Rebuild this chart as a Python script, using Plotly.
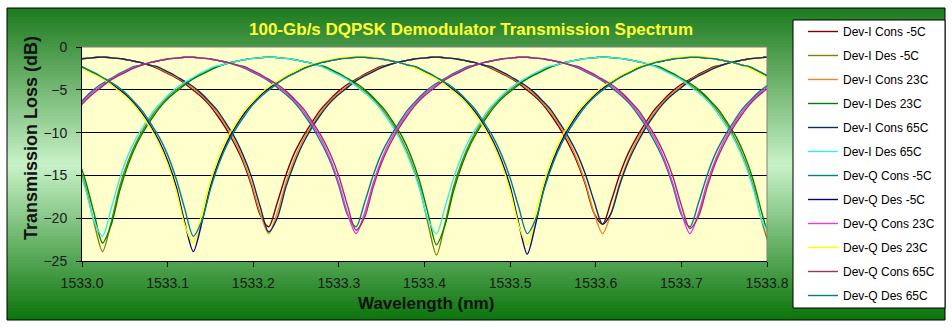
import plotly.graph_objects as go

# ---------------- data ----------------
# wavelength sampling (nm) for each interferometer arm group
wl_i_des = [1532.994, 1533.004, 1533.014, 1533.024, 1533.034, 1533.044, 1533.054, 1533.064, 1533.074, 1533.084,
            1533.094, 1533.104, 1533.114, 1533.124, 1533.134, 1533.144, 1533.154, 1533.164, 1533.174, 1533.184,
            1533.194, 1533.204, 1533.214, 1533.224, 1533.234, 1533.244, 1533.254, 1533.264, 1533.274, 1533.284,
            1533.294, 1533.304, 1533.314, 1533.324, 1533.334, 1533.344, 1533.354, 1533.364, 1533.374, 1533.384,
            1533.394, 1533.404, 1533.414, 1533.424, 1533.434, 1533.444, 1533.454, 1533.464, 1533.474, 1533.484,
            1533.494, 1533.504, 1533.514, 1533.524, 1533.534, 1533.544, 1533.554, 1533.564, 1533.574, 1533.584,
            1533.594, 1533.604, 1533.614, 1533.624, 1533.634, 1533.644, 1533.654, 1533.664, 1533.674, 1533.684,
            1533.694, 1533.704, 1533.714, 1533.724, 1533.734, 1533.744, 1533.754, 1533.764, 1533.774, 1533.784,
            1533.794, 1533.804]
wl_q_des = [1533.000, 1533.010, 1533.020, 1533.030, 1533.040, 1533.050, 1533.060, 1533.070, 1533.080, 1533.090,
            1533.100, 1533.110, 1533.120, 1533.130, 1533.140, 1533.150, 1533.160, 1533.170, 1533.180, 1533.190,
            1533.200, 1533.210, 1533.220, 1533.230, 1533.240, 1533.250, 1533.260, 1533.270, 1533.280, 1533.290,
            1533.300, 1533.310, 1533.320, 1533.330, 1533.340, 1533.350, 1533.360, 1533.370, 1533.380, 1533.390,
            1533.400, 1533.410, 1533.420, 1533.430, 1533.440, 1533.450, 1533.460, 1533.470, 1533.480, 1533.490,
            1533.500, 1533.510, 1533.520, 1533.530, 1533.540, 1533.550, 1533.560, 1533.570, 1533.580, 1533.590,
            1533.600, 1533.610, 1533.620, 1533.630, 1533.640, 1533.650, 1533.660, 1533.670, 1533.680, 1533.690,
            1533.700, 1533.710, 1533.720, 1533.730, 1533.740, 1533.750, 1533.760, 1533.770, 1533.780, 1533.790,
            1533.800]
wl_i_cons = [1532.998, 1533.008, 1533.018, 1533.028, 1533.038, 1533.048, 1533.058, 1533.068, 1533.078, 1533.088,
             1533.098, 1533.108, 1533.118, 1533.128, 1533.138, 1533.148, 1533.158, 1533.168, 1533.178, 1533.188,
             1533.198, 1533.208, 1533.218, 1533.228, 1533.238, 1533.248, 1533.258, 1533.268, 1533.278, 1533.288,
             1533.298, 1533.308, 1533.318, 1533.328, 1533.338, 1533.348, 1533.358, 1533.368, 1533.378, 1533.388,
             1533.398, 1533.408, 1533.418, 1533.428, 1533.438, 1533.448, 1533.458, 1533.468, 1533.478, 1533.488,
             1533.498, 1533.508, 1533.518, 1533.528, 1533.538, 1533.548, 1533.558, 1533.568, 1533.578, 1533.588,
             1533.598, 1533.608, 1533.618, 1533.628, 1533.638, 1533.648, 1533.658, 1533.668, 1533.678, 1533.688,
             1533.698, 1533.708, 1533.718, 1533.728, 1533.738, 1533.748, 1533.758, 1533.768, 1533.778, 1533.788,
             1533.798, 1533.808]
wl_q_cons = [1532.990, 1533.000, 1533.010, 1533.020, 1533.030, 1533.040, 1533.050, 1533.060, 1533.070, 1533.080,
             1533.090, 1533.100, 1533.110, 1533.120, 1533.130, 1533.140, 1533.150, 1533.160, 1533.170, 1533.180,
             1533.190, 1533.200, 1533.210, 1533.220, 1533.230, 1533.240, 1533.250, 1533.260, 1533.270, 1533.280,
             1533.290, 1533.300, 1533.310, 1533.320, 1533.330, 1533.340, 1533.350, 1533.360, 1533.370, 1533.380,
             1533.390, 1533.400, 1533.410, 1533.420, 1533.430, 1533.440, 1533.450, 1533.460, 1533.470, 1533.480,
             1533.490, 1533.500, 1533.510, 1533.520, 1533.530, 1533.540, 1533.550, 1533.560, 1533.570, 1533.580,
             1533.590, 1533.600, 1533.610, 1533.620, 1533.630, 1533.640, 1533.650, 1533.660, 1533.670, 1533.680,
             1533.690, 1533.700, 1533.710, 1533.720, 1533.730, 1533.740, 1533.750, 1533.760, 1533.770, 1533.780,
             1533.790, 1533.800]

# transmission loss (dB)
i_cons_m5 = [-1.4, -1.3, -1.2, -1.2, -1.3, -1.4, -1.6, -1.8, -2.1, -2.5,
             -3.0, -3.5, -4.1, -4.9, -5.7, -6.7, -8.0, -9.5, -11.3, -13.4,
             -16.2, -19.6, -21.0, -18.2, -15.0, -12.4, -10.5, -8.9, -7.4, -6.3,
             -5.3, -4.5, -3.9, -3.3, -2.8, -2.3, -2.1, -1.8, -1.6, -1.4,
             -1.3, -1.2, -1.2, -1.3, -1.4, -1.6, -1.8, -2.1, -2.5, -3.0,
             -3.5, -4.1, -4.9, -5.7, -6.7, -8.0, -9.5, -11.3, -13.4, -16.1,
             -19.4, -20.7, -18.0, -14.9, -12.4, -10.5, -8.9, -7.4, -6.3, -5.3,
             -4.5, -3.9, -3.3, -2.8, -2.3, -2.1, -1.8, -1.6, -1.4, -1.3,
             -1.2, -1.2]
i_des_m5 = [-13.3, -16.3, -20.5, -23.9, -20.5, -16.3, -13.3, -11.0, -9.2, -7.7,
            -6.5, -5.5, -4.7, -4.0, -3.4, -2.9, -2.4, -2.1, -1.8, -1.6,
            -1.4, -1.3, -1.2, -1.2, -1.3, -1.4, -1.6, -1.8, -2.1, -2.4,
            -2.9, -3.4, -4.0, -4.7, -5.5, -6.5, -7.7, -9.2, -11.0, -13.3,
            -16.3, -20.6, -24.3, -20.6, -16.3, -13.3, -11.0, -9.2, -7.7, -6.5,
            -5.5, -4.7, -4.0, -3.4, -2.9, -2.4, -2.1, -1.8, -1.6, -1.4,
            -1.3, -1.2, -1.2, -1.3, -1.4, -1.6, -1.8, -2.1, -2.4, -2.9,
            -3.4, -4.0, -4.7, -5.5, -6.5, -7.7, -9.2, -11.0, -13.3, -16.3,
            -20.4, -23.6]
i_cons_23 = [-1.4, -1.3, -1.2, -1.2, -1.3, -1.4, -1.6, -1.8, -2.1, -2.4,
             -2.9, -3.4, -4.0, -4.7, -5.5, -6.5, -7.7, -9.2, -10.9, -13.1,
             -15.9, -19.4, -21.8, -19.4, -15.9, -13.1, -10.9, -9.2, -7.7, -6.5,
             -5.5, -4.7, -4.0, -3.4, -2.9, -2.4, -2.1, -1.8, -1.6, -1.4,
             -1.3, -1.2, -1.2, -1.3, -1.4, -1.6, -1.8, -2.1, -2.4, -2.9,
             -3.4, -4.0, -4.7, -5.5, -6.5, -7.7, -9.2, -10.9, -13.1, -15.9,
             -19.4, -21.8, -19.4, -15.9, -13.1, -10.9, -9.2, -7.7, -6.5, -5.5,
             -4.7, -4.0, -3.4, -2.9, -2.4, -2.1, -1.8, -1.6, -1.4, -1.3,
             -1.2, -1.2]
i_des_23 = [-12.7, -15.6, -19.4, -22.9, -20.8, -16.8, -13.7, -11.3, -9.5, -8.0,
            -6.7, -5.7, -4.9, -4.1, -3.5, -3.0, -2.5, -2.1, -1.8, -1.6,
            -1.4, -1.3, -1.2, -1.2, -1.3, -1.4, -1.6, -1.8, -2.1, -2.3,
            -2.8, -3.3, -3.9, -4.5, -5.3, -6.3, -7.4, -8.9, -10.5, -12.7,
            -15.6, -19.4, -23.1, -20.8, -16.8, -13.7, -11.3, -9.5, -8.0, -6.7,
            -5.7, -4.9, -4.1, -3.5, -3.0, -2.5, -2.1, -1.8, -1.6, -1.4,
            -1.3, -1.2, -1.2, -1.3, -1.4, -1.6, -1.8, -2.1, -2.3, -2.8,
            -3.3, -3.9, -4.5, -5.3, -6.3, -7.4, -8.9, -10.5, -12.7, -15.6,
            -19.4, -22.8]
i_cons_65 = [-1.4, -1.3, -1.2, -1.2, -1.3, -1.4, -1.6, -1.8, -2.1, -2.3,
             -2.8, -3.3, -3.9, -4.5, -5.3, -6.3, -7.4, -8.9, -10.5, -12.6,
             -15.2, -18.6, -21.6, -20.0, -16.4, -13.6, -11.3, -9.5, -8.0, -6.7,
             -5.7, -4.9, -4.1, -3.5, -3.0, -2.5, -2.1, -1.8, -1.6, -1.4,
             -1.3, -1.2, -1.2, -1.3, -1.4, -1.6, -1.8, -2.1, -2.3, -2.8,
             -3.3, -3.9, -4.5, -5.3, -6.3, -7.4, -8.9, -10.5, -12.4, -14.9,
             -18.0, -20.7, -19.4, -16.1, -13.4, -11.3, -9.5, -8.0, -6.7, -5.7,
             -4.9, -4.1, -3.5, -3.0, -2.5, -2.1, -1.8, -1.6, -1.4, -1.3,
             -1.2, -1.2]
i_des_65 = [-13.6, -16.6, -20.3, -22.1, -18.9, -15.4, -12.6, -10.5, -8.9, -7.4,
            -6.3, -5.3, -4.5, -3.9, -3.3, -2.8, -2.3, -2.1, -1.8, -1.6,
            -1.4, -1.3, -1.2, -1.2, -1.3, -1.4, -1.6, -1.8, -2.1, -2.5,
            -3.0, -3.5, -4.1, -4.9, -5.7, -6.7, -8.0, -9.5, -11.3, -13.6,
            -16.5, -20.1, -21.8, -18.7, -15.3, -12.6, -10.5, -8.9, -7.4, -6.3,
            -5.3, -4.5, -3.9, -3.3, -2.8, -2.3, -2.1, -1.8, -1.6, -1.4,
            -1.3, -1.2, -1.2, -1.3, -1.4, -1.6, -1.8, -2.1, -2.5, -3.0,
            -3.5, -4.1, -4.9, -5.7, -6.7, -8.0, -9.5, -11.3, -13.6, -16.6,
            -20.3, -22.0]
q_cons_m5 = [-7.4, -6.3, -5.3, -4.5, -3.9, -3.3, -2.8, -2.3, -2.1, -1.8,
             -1.6, -1.4, -1.3, -1.2, -1.2, -1.3, -1.4, -1.6, -1.8, -2.1,
             -2.5, -3.0, -3.5, -4.1, -4.9, -5.7, -6.7, -8.0, -9.5, -11.3,
             -13.4, -16.2, -19.6, -21.0, -18.2, -15.0, -12.4, -10.5, -8.9, -7.4,
             -6.3, -5.3, -4.5, -3.9, -3.3, -2.8, -2.3, -2.1, -1.8, -1.6,
             -1.4, -1.3, -1.2, -1.2, -1.3, -1.4, -1.6, -1.8, -2.1, -2.5,
             -3.0, -3.5, -4.1, -4.9, -5.7, -6.7, -8.0, -9.5, -11.3, -13.4,
             -16.2, -19.6, -21.0, -18.2, -15.0, -12.4, -10.5, -8.9, -7.4, -6.3,
             -5.3, -4.5]
q_des_m5 = [-2.4, -2.9, -3.4, -4.0, -4.7, -5.5, -6.5, -7.7, -9.2, -11.0,
            -13.3, -16.3, -20.5, -23.9, -20.5, -16.3, -13.3, -11.0, -9.2, -7.7,
            -6.5, -5.5, -4.7, -4.0, -3.4, -2.9, -2.4, -2.1, -1.8, -1.6,
            -1.4, -1.3, -1.2, -1.2, -1.3, -1.4, -1.6, -1.8, -2.1, -2.4,
            -2.9, -3.4, -4.0, -4.7, -5.5, -6.5, -7.7, -9.2, -11.0, -13.3,
            -16.3, -20.6, -24.2, -20.6, -16.3, -13.3, -11.0, -9.2, -7.7, -6.5,
            -5.5, -4.7, -4.0, -3.4, -2.9, -2.4, -2.1, -1.8, -1.6, -1.4,
            -1.3, -1.2, -1.2, -1.3, -1.4, -1.6, -1.8, -2.1, -2.4, -2.9,
            -3.4]
q_cons_23 = [-7.7, -6.5, -5.5, -4.7, -4.0, -3.4, -2.9, -2.4, -2.1, -1.8,
             -1.6, -1.4, -1.3, -1.2, -1.2, -1.3, -1.4, -1.6, -1.8, -2.1,
             -2.4, -2.9, -3.4, -4.0, -4.7, -5.5, -6.5, -7.7, -9.2, -10.9,
             -13.1, -15.9, -19.4, -21.8, -19.4, -15.9, -13.1, -10.9, -9.2, -7.7,
             -6.5, -5.5, -4.7, -4.0, -3.4, -2.9, -2.4, -2.1, -1.8, -1.6,
             -1.4, -1.3, -1.2, -1.2, -1.3, -1.4, -1.6, -1.8, -2.1, -2.4,
             -2.9, -3.4, -4.0, -4.7, -5.5, -6.5, -7.7, -9.2, -10.9, -13.1,
             -15.9, -19.4, -21.8, -19.4, -15.9, -13.1, -10.9, -9.2, -7.7, -6.5,
             -5.5, -4.7]
q_des_23 = [-2.5, -3.0, -3.5, -4.1, -4.9, -5.7, -6.7, -8.0, -9.5, -11.3,
            -13.7, -16.8, -20.8, -22.9, -19.4, -15.6, -12.7, -10.5, -8.9, -7.4,
            -6.3, -5.3, -4.5, -3.9, -3.3, -2.8, -2.3, -2.0, -1.7, -1.5,
            -1.3, -1.2, -1.1, -1.1, -1.2, -1.4, -1.6, -1.8, -2.1, -2.5,
            -3.0, -3.5, -4.1, -4.9, -5.7, -6.7, -8.0, -9.5, -11.3, -13.7,
            -16.8, -20.8, -23.1, -19.4, -15.6, -12.7, -10.5, -8.9, -7.4, -6.3,
            -5.3, -4.5, -3.9, -3.3, -2.8, -2.3, -2.0, -1.7, -1.5, -1.3,
            -1.2, -1.1, -1.1, -1.2, -1.4, -1.6, -1.8, -2.1, -2.5, -3.0,
            -3.5]
q_cons_65 = [-8.0, -6.7, -5.7, -4.9, -4.1, -3.5, -3.0, -2.5, -2.1, -1.8,
             -1.6, -1.4, -1.3, -1.2, -1.2, -1.3, -1.4, -1.6, -1.8, -2.1,
             -2.3, -2.8, -3.3, -3.9, -4.5, -5.3, -6.3, -7.4, -8.9, -10.5,
             -12.5, -15.1, -18.5, -21.4, -19.9, -16.4, -13.5, -11.3, -9.5, -8.0,
             -6.7, -5.7, -4.9, -4.1, -3.5, -3.0, -2.5, -2.1, -1.8, -1.6,
             -1.4, -1.3, -1.2, -1.2, -1.3, -1.4, -1.6, -1.8, -2.1, -2.3,
             -2.8, -3.3, -3.9, -4.5, -5.3, -6.3, -7.4, -8.9, -10.5, -12.5,
             -15.1, -18.5, -21.2, -19.8, -16.4, -13.5, -11.3, -9.5, -8.0, -6.7,
             -5.7, -4.9]
q_des_65 = [-2.3, -2.8, -3.3, -3.9, -4.5, -5.3, -6.3, -7.4, -8.9, -10.5,
            -12.6, -15.4, -18.9, -22.1, -20.3, -16.6, -13.6, -11.3, -9.5, -8.0,
            -6.7, -5.7, -4.9, -4.1, -3.5, -3.0, -2.5, -2.1, -1.8, -1.6,
            -1.4, -1.3, -1.2, -1.2, -1.3, -1.4, -1.6, -1.8, -2.1, -2.3,
            -2.8, -3.3, -3.9, -4.5, -5.3, -6.3, -7.4, -8.9, -10.5, -12.6,
            -15.3, -18.7, -21.8, -20.1, -16.5, -13.6, -11.3, -9.5, -8.0, -6.7,
            -5.7, -4.9, -4.1, -3.5, -3.0, -2.5, -2.1, -1.8, -1.6, -1.4,
            -1.3, -1.2, -1.2, -1.3, -1.4, -1.6, -1.8, -2.1, -2.3, -2.8,
            -3.3]

series_names = ["Dev-I Cons -5C", "Dev-I Des -5C", "Dev-I Cons 23C", "Dev-I Des 23C",
                "Dev-I Cons 65C", "Dev-I Des 65C", "Dev-Q Cons -5C", "Dev-Q Des -5C",
                "Dev-Q Cons 23C", "Dev-Q Des 23C", "Dev-Q Cons 65C", "Dev-Q Des 65C"]
series_x = [wl_i_cons, wl_i_des, wl_i_cons, wl_i_des, wl_i_cons, wl_i_des,
            wl_q_cons, wl_q_des, wl_q_cons, wl_q_des, wl_q_cons, wl_q_des]
series_y = [i_cons_m5, i_des_m5, i_cons_23, i_des_23, i_cons_65, i_des_65,
            q_cons_m5, q_des_m5, q_cons_23, q_des_23, q_cons_65, q_des_65]

x_tick_vals = [1533.0, 1533.1, 1533.2, 1533.3, 1533.4, 1533.5, 1533.6, 1533.7, 1533.8]
y_tick_vals = [0, -5, -10, -15, -20, -25]

# ---------------- styles ----------------
line_colors = ["#800000", "#808000", "#F58220", "#008000", "#003366", "#33EEEE",
               "#008080", "#000080", "#EE33EE", "#FFFF00", "#993366", "#008080"]

for xs, ys in zip(series_x, series_y):
    assert len(xs) == len(ys), (len(xs), len(ys))

W, H = 952, 330
L, R, T, B = 82, 185, 47, 69
PW, PH = W - L - R, H - T - B


def fx(px):
    return (px - L) / PW


def fy(py):
    return (H - B - py) / PH


FONT = "Arial, 'Liberation Sans', sans-serif"

fig = go.Figure()
for i, (name, xs, ys) in enumerate(zip(series_names, series_x, series_y)):
    fig.add_trace(go.Scatter(
        x=xs, y=ys, mode="lines", name=name, legendgroup=name,
        line=dict(color=line_colors[i], width=1.4, shape="spline", smoothing=0.8),
        hoverinfo="x+y+name"))

shapes = []
# green gradient chart background
top, bot, mid_y = 8, 320, 165
c_top, c_mid, c_bot = (28, 122, 28), (200, 242, 200), (10, 116, 10)


def mix(a, b, t):
    return "rgb(%d,%d,%d)" % tuple(round(a[k] + (b[k] - a[k]) * t) for k in range(3))


step = 3
py = top
while py < bot:
    m = py + step / 2
    if m < mid_y:
        col = mix(c_top, c_mid, (m - top) / (mid_y - top))
    else:
        col = mix(c_mid, c_bot, (m - mid_y) / (bot - mid_y))
    shapes.append(dict(type="rect", xref="paper", yref="paper", layer="below",
                       x0=fx(7), x1=fx(945), y0=fy(min(py + step + 1, bot)), y1=fy(py),
                       fillcolor=col, line=dict(width=0)))
    py += step
# plot area fill
shapes.append(dict(type="rect", xref="paper", yref="paper", layer="below",
                   x0=0, x1=1, y0=0, y1=1, fillcolor="#FFFFCC", line=dict(width=0)))
# chart frame
shapes.append(dict(type="rect", xref="paper", yref="paper", layer="below",
                   x0=fx(7), x1=fx(945), y0=fy(320), y1=fy(8),
                   fillcolor="rgba(0,0,0,0)", line=dict(color="black", width=1)))
# legend box
shapes.append(dict(type="rect", xref="paper", yref="paper", layer="below",
                   x0=fx(793), x1=fx(945), y0=fy(308), y1=fy(20),
                   fillcolor="white", line=dict(color="black", width=1)))
# top and right plot borders (gray)
shapes.append(dict(type="line", xref="paper", yref="paper", layer="above",
                   x0=0, x1=1, y0=1, y1=1, line=dict(color="#808080", width=1)))
shapes.append(dict(type="line", xref="paper", yref="paper", layer="above",
                   x0=1, x1=1, y0=0, y1=1, line=dict(color="#808080", width=1)))

annotations = [
    dict(text="<b>100-Gb/s DQPSK Demodulator Transmission Spectrum</b>", xref="paper", yref="paper",
         x=fx(471), y=fy(30), xanchor="center", yanchor="middle", showarrow=False,
         font=dict(family=FONT, size=17, color="#FFFF33")),
    dict(text="<b>Transmission Loss (dB)</b>", xref="paper", yref="paper",
         x=fx(31), y=fy(138), xanchor="center", yanchor="middle", showarrow=False, textangle=-90,
         font=dict(family=FONT, size=18, color="#111111")),
    dict(text="<b>Wavelength (nm)</b>", xref="paper", yref="paper",
         x=fx(426), y=fy(303), xanchor="center", yanchor="middle", showarrow=False,
         font=dict(family=FONT, size=17, color="#111111")),
]

fig.update_layout(
    width=W, height=H, margin=dict(l=L, r=R, t=T, b=B, pad=0),
    paper_bgcolor="white", plot_bgcolor="rgba(0,0,0,0)",
    font=dict(family=FONT, color="black"),
    shapes=shapes, annotations=annotations,
    showlegend=True,
    legend=dict(x=fx(803), y=fy(17), xanchor="left", yanchor="top",
                bgcolor="rgba(0,0,0,0)", borderwidth=0, tracegroupgap=5,
                maxheight=320,
                font=dict(family=FONT, size=12, color="black")),
    xaxis=dict(range=[1533.0, 1533.8], tickvals=x_tick_vals, tickformat=".1f",
               ticks="outside", ticklen=5, tickcolor="black", showline=True, linecolor="black",
               linewidth=1, showgrid=False, zeroline=False, ticklabelstandoff=4,
               tickfont=dict(family=FONT, size=14, color="#1a1a1a")),
    yaxis=dict(range=[-25, 0], tickvals=y_tick_vals,
               ticks="outside", ticklen=5, tickcolor="black", showline=True, linecolor="black",
               linewidth=1, showgrid=True, gridcolor="black", gridwidth=1, zeroline=False,
               ticklabelstandoff=6,
               tickfont=dict(family=FONT, size=14, color="#1a1a1a")),
)

fig.write_html("out.html")
